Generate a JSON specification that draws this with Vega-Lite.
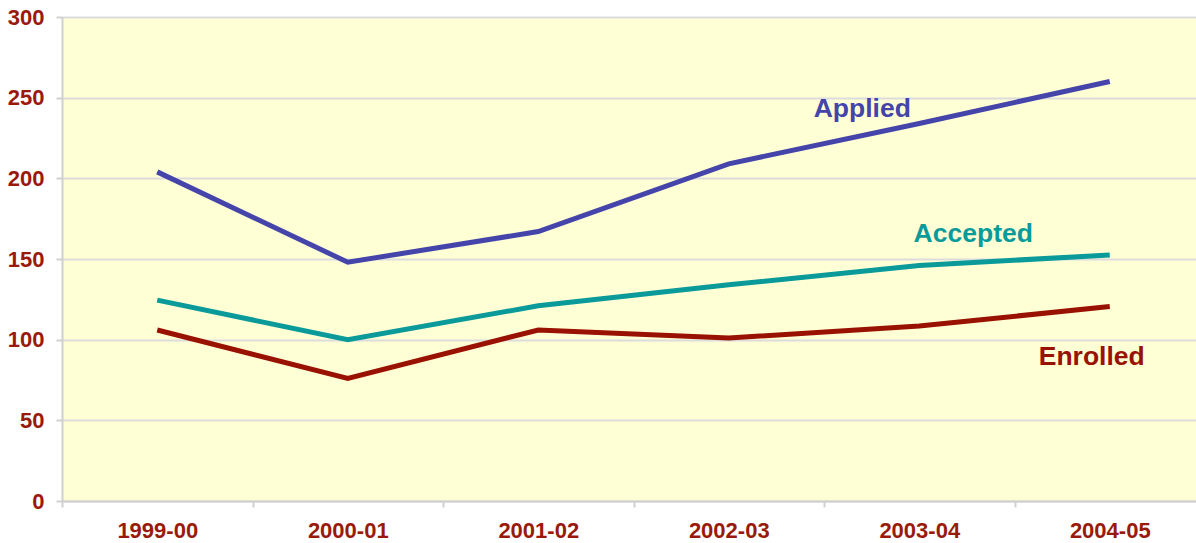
{
  "$schema": "https://vega.github.io/schema/vega-lite/v6.json",
  "autosize": "none",
  "width": 1134,
  "height": 484,
  "padding": {"left": 62, "top": 17, "right": 0, "bottom": 42},
  "background": "white",
  "config": {
    "view": {"stroke": null, "fill": "#FFFFD6"},
    "font": "Liberation Sans"
  },
  "datasets": {
    "lines": [
      {"year": "1999-00", "series": "Applied", "value": 204},
      {"year": "2000-01", "series": "Applied", "value": 148},
      {"year": "2001-02", "series": "Applied", "value": 167},
      {"year": "2002-03", "series": "Applied", "value": 209},
      {"year": "2003-04", "series": "Applied", "value": 234},
      {"year": "2004-05", "series": "Applied", "value": 260},
      {"year": "1999-00", "series": "Accepted", "value": 124.5},
      {"year": "2000-01", "series": "Accepted", "value": 100},
      {"year": "2001-02", "series": "Accepted", "value": 121},
      {"year": "2002-03", "series": "Accepted", "value": 134},
      {"year": "2003-04", "series": "Accepted", "value": 146},
      {"year": "2004-05", "series": "Accepted", "value": 152.5},
      {"year": "1999-00", "series": "Enrolled", "value": 106},
      {"year": "2000-01", "series": "Enrolled", "value": 76},
      {"year": "2001-02", "series": "Enrolled", "value": 106},
      {"year": "2002-03", "series": "Enrolled", "value": 101},
      {"year": "2003-04", "series": "Enrolled", "value": 108.5},
      {"year": "2004-05", "series": "Enrolled", "value": 120.5}
    ],
    "labels": [
      {"year": "2003-04", "series": "Applied", "value": 243},
      {"year": "2003-04", "series": "Accepted", "value": 165.5},
      {"year": "2004-05", "series": "Enrolled", "value": 89}
    ]
  },
  "encoding": {
    "x": {
      "field": "year",
      "type": "ordinal",
      "bandPosition": 0.5,
      "scale": {"type": "band", "range": [0, 1143], "paddingInner": 0, "paddingOuter": 0},
      "axis": {
        "title": null,
        "labelAngle": 0,
        "labelFont": "Liberation Sans",
        "labelFontSize": 22,
        "labelFontWeight": "bold",
        "labelColor": "#991A0A",
        "labelPadding": 13,
        "tickBand": "extent",
        "ticks": true,
        "tickSize": 6,
        "tickColor": "#d0d0d0",
        "tickWidth": 2,
        "domainColor": "#d0d0d0",
        "domainWidth": 2,
        "grid": false
      }
    },
    "y": {
      "field": "value",
      "type": "quantitative",
      "scale": {"domain": [0, 300], "nice": false},
      "axis": {
        "title": null,
        "values": [0, 50, 100, 150, 200, 250, 300],
        "labelFont": "Liberation Sans",
        "labelFontSize": 22,
        "labelFontWeight": "bold",
        "labelColor": "#991A0A",
        "labelPadding": 12,
        "tickSize": 6,
        "tickColor": "#d0d0d0",
        "tickWidth": 2,
        "domainColor": "#d0d0d0",
        "domainWidth": 2,
        "grid": true,
        "gridColor": "#dcdcdc",
        "gridWidth": 2
      }
    },
    "color": {
      "field": "series",
      "type": "nominal",
      "scale": {"domain": ["Applied", "Accepted", "Enrolled"], "range": ["#4444AA", "#0A9A9A", "#991100"]},
      "legend": null
    }
  },
  "layer": [
    {
      "data": {"name": "lines"},
      "mark": {"type": "line", "strokeWidth": 5},
      "encoding": {}
    },
    {
      "data": {"name": "labels"},
      "transform": [{"filter": "datum.series === 'Applied'"}],
      "mark": {"type": "text", "fontSize": 26.5, "fontWeight": "bold", "font": "Liberation Sans", "baseline": "middle", "align": "center", "dx": -57},
      "encoding": {"text": {"field": "series"}}
    },
    {
      "data": {"name": "labels"},
      "transform": [{"filter": "datum.series === 'Accepted'"}],
      "mark": {"type": "text", "fontSize": 26.5, "fontWeight": "bold", "font": "Liberation Sans", "baseline": "middle", "align": "center", "dx": 54},
      "encoding": {"text": {"field": "series"}}
    },
    {
      "data": {"name": "labels"},
      "transform": [{"filter": "datum.series === 'Enrolled'"}],
      "mark": {"type": "text", "fontSize": 26.5, "fontWeight": "bold", "font": "Liberation Sans", "baseline": "middle", "align": "center", "dx": -18},
      "encoding": {"text": {"field": "series"}}
    }
  ]
}
